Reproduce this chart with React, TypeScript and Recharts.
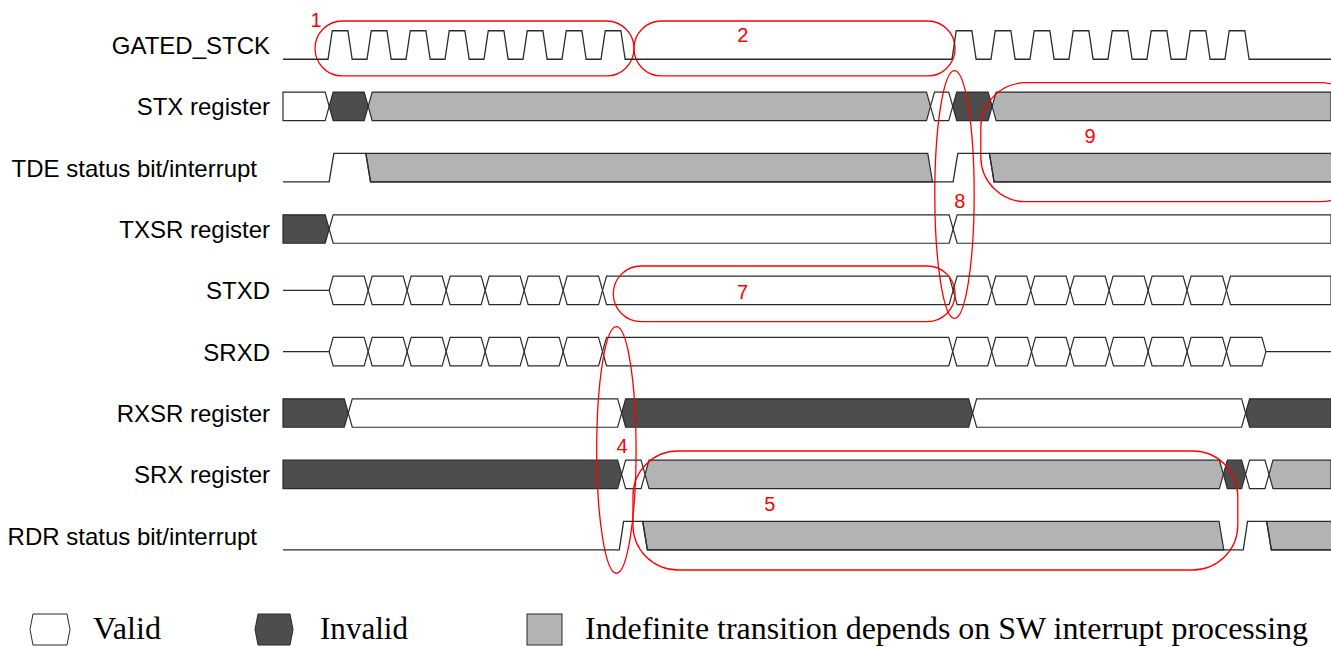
import React from 'react';
import { ComposedChart, Line, XAxis, YAxis, ReferenceArea, ReferenceDot } from 'recharts';

// ---------- data (time in clock periods, rows by index) ----------
const signalNames = [
  'GATED_STCK',
  'STX register',
  'TDE status bit/interrupt',
  'TXSR register',
  'STXD',
  'SRXD',
  'RXSR register',
  'SRX register',
  'RDR status bit/interrupt',
];
const rowTicks = [0, 1, 2, 3, 4, 5, 6, 7, 8];

const T_START = -1.154;
const T_END = 25.72;

// rising edges of the gated serial clock
const clockRiseTimes = [0, 1, 2, 3, 4, 5, 6, 7, 16, 17, 18, 19, 20, 21, 22, 23];

// bus-style rows: [kind, from, to]
const stxSegments = [
  ['valid', T_START, 0.03],
  ['invalid', 0.03, 1.03],
  ['indef', 1.03, 15.45],
  ['valid', 15.45, 16.02],
  ['invalid', 16.02, 17.03],
  ['indef', 17.03, T_END],
];
const txsrSegments = [
  ['invalid', T_START, 0.03],
  ['valid', 0.03, 16.03],
  ['valid', 16.03, T_END],
];
const rxsrSegments = [
  ['invalid', T_START, 0.52],
  ['valid', 0.52, 7.53],
  ['invalid', 7.53, 16.53],
  ['valid', 16.53, 23.53],
  ['invalid', 23.53, T_END],
];
const srxSegments = [
  ['invalid', T_START, 7.53],
  ['valid', 7.53, 8.13],
  ['indef', 8.13, 22.96],
  ['invalid', 22.96, 23.53],
  ['valid', 23.53, 24.13],
  ['indef', 24.13, T_END],
];

// serial data cells (edges); STXD last cell runs to the end, SRXD returns to idle
const stxdCellEdges = [0.03, 1.03, 2.03, 3.03, 4.03, 5.03, 6.03, 7.04, 16.03, 17.02, 18.02, 19.03, 20.03, 21.03, 22.03, 23.04, T_END];
const srxdCellEdges = [0.03, 1.03, 2.03, 3.03, 4.03, 5.03, 6.03, 7.04, 16.02, 17.02, 18.04, 19.03, 20.04, 21.03, 22.03, 23.04, 24.05];

// status bits: [time, level]
const tdeLevels = [[T_START, 0], [0.03, 0], [0.15, 1], [0.97, 1], [1.09, 0], [16.03, 0], [16.15, 1], [16.96, 1], [17.08, 0], [T_END, 0]];
const tdePending = [[0.97, 15.38], [16.96, T_END]];
const rdrLevels = [[T_START, 0], [7.47, 0], [7.58, 1], [8.07, 1], [8.19, 0], [23.47, 0], [23.58, 1], [24.07, 1], [24.19, 0], [T_END, 0]];
const rdrPending = [[8.07, 22.85], [24.07, T_END]];

// red annotations
const annotationLoops = [
  { kind: 'stadium', t1: -0.333, t2: 7.846, r1: -0.391, r2: 0.505 },
  { kind: 'stadium', t1: 7.846, t2: 16.08, r1: -0.391, r2: 0.505 },
  { kind: 'ellipse', t1: 15.56, t2: 16.57, r1: 0.419, r2: 4.456 },
  { kind: 'rounded', t1: 16.74, t2: 26.6, r1: 0.615, r2: 2.555 },
  { kind: 'stadium', t1: 7.315, t2: 16.08, r1: 3.603, r2: 4.511 },
  { kind: 'ellipse', t1: 6.89, t2: 7.9, r1: 4.592, r2: 8.612 },
  { kind: 'rounded', t1: 7.82, t2: 23.33, r1: 6.619, r2: 8.559 },
];
const annotationLabels = [
  { text: '1', t: -0.308, r: -0.412 },
  { text: '2', t: 10.64, r: -0.166 },
  { text: '8', t: 16.2, r: 2.535 },
  { text: '9', t: 19.54, r: 1.484 },
  { text: '7', t: 10.63, r: 4.027 },
  { text: '4', t: 7.54, r: 6.529 },
  { text: '5', t: 11.33, r: 7.483 },
];

const legendItems = [
  { kind: 'valid', label: 'Valid' },
  { kind: 'invalid', label: 'Invalid' },
  { kind: 'indef', label: 'Indefinite transition depends on SW interrupt processing' },
];

// ---------- styles ----------
const ROW_HALF = 0.232;
const CLOCK_EDGE = 0.11;
const CLOCK_HIGH = 0.4;
const BEVEL = 4;
const SLANT = 4.7;
const FILLS: Record<string, string> = { valid: '#ffffff', invalid: '#4d4d4d', indef: '#b3b3b3' };
const OUTLINE = '#2b2b2b';
const RED = '#ff0000';
const SANS = "'Liberation Sans', Arial, Helvetica, sans-serif";
const SERIF = "'Liberation Serif', 'Times New Roman', serif";

// ---------- builders ----------
const hi = (row: number) => row - ROW_HALF;
const lo = (row: number) => row + ROW_HALF;

const clockData = (() => {
  const pts: { t: number; v: number }[] = [{ t: T_START, v: lo(0) }];
  clockRiseTimes.forEach((r) => {
    pts.push({ t: r, v: lo(0) });
    pts.push({ t: r + CLOCK_EDGE, v: hi(0) });
    pts.push({ t: r + CLOCK_EDGE + CLOCK_HIGH, v: hi(0) });
    pts.push({ t: r + 2 * CLOCK_EDGE + CLOCK_HIGH, v: lo(0) });
  });
  pts.push({ t: T_END, v: lo(0) });
  return pts;
})();

const levelData = (levels: number[][], row: number) =>
  levels.map(([t, l]) => ({ t, v: l ? hi(row) : lo(row) }));

const stxdIdle = [{ t: T_START, v: 4 }, { t: stxdCellEdges[0], v: 4 }];
const srxdIdle = [
  { t: T_START, v: 5 },
  { t: srxdCellEdges[0], v: 5 },
  { t: 12, v: null },
  { t: srxdCellEdges[srxdCellEdges.length - 1], v: 5 },
  { t: T_END, v: 5 },
];

const busPath = (x: number, y: number, w: number, h: number, flatL: boolean, flatR: boolean) => {
  const m = y + h / 2;
  const pts: number[][] = [];
  if (flatL) pts.push([x, y + h], [x, y]);
  else pts.push([x, m], [x + BEVEL, y]);
  if (flatR) pts.push([x + w, y], [x + w, y + h]);
  else pts.push([x + w - BEVEL, y], [x + w, m], [x + w - BEVEL, y + h]);
  if (!flatL) pts.push([x + BEVEL, y + h]);
  return 'M' + pts.map((p) => p.join(',')).join('L') + 'Z';
};

const makeBusShape = (kind: string, flatL: boolean, flatR: boolean) => (p: any) => {
  if (p.x == null) return null;
  return (
    <path
      d={busPath(p.x, p.y, p.width, p.height, flatL, flatR)}
      fill={FILLS[kind]}
      stroke={OUTLINE}
      strokeWidth={1.2}
      strokeLinejoin="miter"
    />
  );
};

const pendingShape = (p: any) => {
  if (p.x == null) return null;
  const { x, y, width: w, height: h } = p;
  const d = `M${x},${y}L${x + w},${y}L${x + w + SLANT},${y + h}L${x + SLANT},${y + h}Z`;
  return <path d={d} fill={FILLS.indef} stroke={OUTLINE} strokeWidth={1.2} />;
};

const makeLoopShape = (kind: string) => (p: any) => {
  if (p.x == null) return null;
  const { x, y, width: w, height: h } = p;
  if (kind === 'ellipse') {
    return <ellipse cx={x + w / 2} cy={y + h / 2} rx={w / 2} ry={h / 2} fill="none" stroke={RED} strokeWidth={1.3} />;
  }
  const r = kind === 'stadium' ? h / 2 : 45;
  return <rect x={x} y={y} width={w} height={h} rx={r} ry={r} fill="none" stroke={RED} strokeWidth={1.3} />;
};

const RowTick = (props: any) => {
  const { x, y, payload } = props;
  const name = signalNames[payload.value] ?? '';
  const dx = name.includes('status') ? -13 : 0;
  return (
    <text x={x + dx} y={y} dy={9} textAnchor="end" fontSize={24} fontFamily={SANS} fill="#000">
      {name}
    </text>
  );
};

const busRows: { row: number; segs: any[] }[] = [
  { row: 1, segs: stxSegments },
  { row: 3, segs: txsrSegments },
  { row: 6, segs: rxsrSegments },
  { row: 7, segs: srxSegments },
  {
    row: 4,
    segs: stxdCellEdges.slice(0, -1).map((e, i) => ['valid', e, stxdCellEdges[i + 1]]),
  },
  {
    row: 5,
    segs: srxdCellEdges.slice(0, -1).map((e, i) => ['valid', e, srxdCellEdges[i + 1]]),
  },
];

const legendIcon = (kind: string, x: number, y: number, w: number, h: number) => {
  if (kind === 'indef') {
    return <rect x={x} y={y} width={w} height={h} fill={FILLS.indef} stroke={OUTLINE} strokeWidth={1} />;
  }
  const b = 3;
  const m = y + h / 2;
  const d = `M${x},${m}L${x + b},${y}L${x + w - b},${y}L${x + w},${m}L${x + w - b},${y + h}L${x + b},${y + h}Z`;
  return <path d={d} fill={FILLS[kind]} stroke={OUTLINE} strokeWidth={1} />;
};

const legendLayout = [
  { ix: 30, iw: 40, tx: 93, tw: 68 },
  { ix: 255, iw: 38, tx: 320, tw: 88 },
  { ix: 527, iw: 35, tx: 585, tw: 723 },
];

export default function App() {
  return (
    <div style={{ position: 'absolute', left: 0, top: 0, width: 1331, height: 647, background: '#fff' }}>
      <ComposedChart
        width={1331}
        height={647}
        margin={{ top: 2.06, right: 0, bottom: 68.36, left: 0 }}
      >
        <XAxis dataKey="t" type="number" domain={[T_START, T_END]} allowDataOverflow hide />
        <YAxis
          type="number"
          domain={[-0.7, 8.7]}
          reversed
          allowDataOverflow
          ticks={rowTicks}
          interval={0}
          width={283}
          axisLine={false}
          tickLine={false}
          tickSize={0}
          tickMargin={13}
          tick={<RowTick />}
        />
        {busRows.flatMap(({ row, segs }) =>
          segs.map(([kind, from, to]: any, i: number) => (
            <ReferenceArea
              key={`b${row}-${i}`}
              x1={from}
              x2={to}
              y1={hi(row)}
              y2={lo(row)}
              ifOverflow="visible"
              shape={makeBusShape(kind, from <= T_START, to >= T_END)}
            />
          ))
        )}
        {[...tdePending.map((p) => ({ p, row: 2 })), ...rdrPending.map((p) => ({ p, row: 8 }))].map(({ p, row }, i) => (
          <ReferenceArea
            key={`p${i}`}
            x1={p[0]}
            x2={p[1]}
            y1={hi(row)}
            y2={lo(row)}
            ifOverflow="visible"
            shape={pendingShape}
          />
        ))}
        <Line data={clockData} dataKey="v" type="linear" stroke={OUTLINE} strokeWidth={1.3} dot={false} activeDot={false} isAnimationActive={false} legendType="none" />
        <Line data={levelData(tdeLevels, 2)} dataKey="v" type="linear" stroke={OUTLINE} strokeWidth={1.3} dot={false} activeDot={false} isAnimationActive={false} legendType="none" />
        <Line data={levelData(rdrLevels, 8)} dataKey="v" type="linear" stroke={OUTLINE} strokeWidth={1.3} dot={false} activeDot={false} isAnimationActive={false} legendType="none" />
        <Line data={stxdIdle} dataKey="v" type="linear" stroke={OUTLINE} strokeWidth={1.2} dot={false} activeDot={false} isAnimationActive={false} legendType="none" />
        <Line data={srxdIdle} dataKey="v" type="linear" stroke={OUTLINE} strokeWidth={1.2} dot={false} activeDot={false} isAnimationActive={false} legendType="none" connectNulls={false} />
        {annotationLoops.map((a, i) => (
          <ReferenceArea
            key={`a${i}`}
            x1={a.t1}
            x2={a.t2}
            y1={a.r1}
            y2={a.r2}
            ifOverflow="visible"
            shape={makeLoopShape(a.kind)}
          />
        ))}
        {annotationLabels.map((l) => (
          <ReferenceDot
            key={`l${l.text}`}
            x={l.t}
            y={l.r}
            r={0}
            fill="none"
            stroke="none"
            ifOverflow="visible"
            label={{ value: l.text, position: 'center', fill: RED, fontSize: 20, fontFamily: SANS }}
          />
        ))}
      </ComposedChart>
      <svg
        width={1331}
        height={647}
        style={{ position: 'absolute', left: 0, top: 0, pointerEvents: 'none' }}
      >
        {legendItems.map((it, i) => {
          const L = legendLayout[i];
          return (
            <g key={it.kind}>
              {legendIcon(it.kind, L.ix, 614, L.iw, 31)}
              <text
                x={L.tx}
                y={639}
                fontFamily={SERIF}
                fontSize={31}
                textLength={L.tw}
                lengthAdjust="spacingAndGlyphs"
                fill="#000"
              >
                {it.label}
              </text>
            </g>
          );
        })}
      </svg>
    </div>
  );
}
